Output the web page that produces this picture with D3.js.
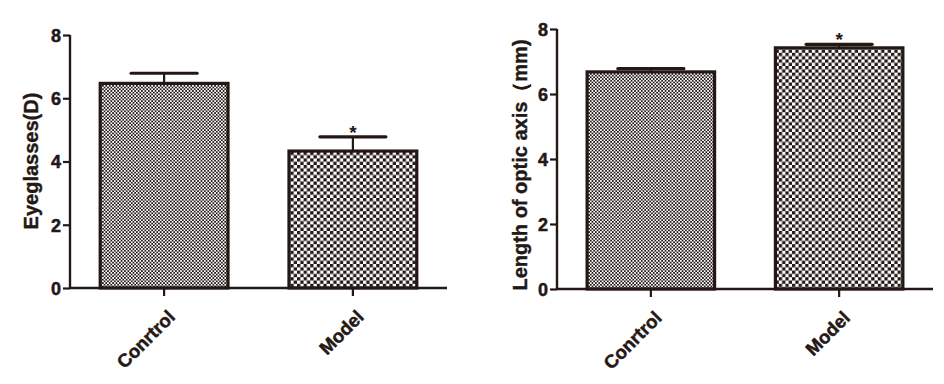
<!DOCTYPE html>
<html><head><meta charset="utf-8">
<script src="https://cdn.jsdelivr.net/npm/d3@7/dist/d3.min.js"></script>
<style>
body{margin:0;background:#fff;}
svg text{font-family:"Liberation Sans",Arial,sans-serif;font-weight:bold;fill:#231815;}
</style></head>
<body>
<svg id="c" width="944" height="384"></svg>
<script>
const categories = ["Conrtrol", "Model"];
const eyeglassesMean = [6.47, 4.33];
const eyeglassesSem = [0.32, 0.45];
const eyeglassesSig = ["", "*"];
const axisMean = [6.68, 7.42];
const axisSem = [0.10, 0.11];
const axisSig = ["", "*"];
const yTicks = [0, 2, 4, 6, 8];
const yLabels = ["Eyeglasses(D)", "Length of optic axis\uFF08mm)"];

const ink = "#231815";
const svg = d3.select("#c");
const defs = svg.append("defs");
function checker(id, p){
  const pat = defs.append("pattern").attr("id", id).attr("patternUnits","userSpaceOnUse")
    .attr("width", p).attr("height", p);
  pat.append("rect").attr("width", p).attr("height", p).attr("fill", "#fff");
  pat.append("rect").attr("width", p/2).attr("height", p/2).attr("fill", ink);
  pat.append("rect").attr("x", p/2).attr("y", p/2).attr("width", p/2).attr("height", p/2).attr("fill", ink);
}
checker("fine", 3.4);
checker("coarse", 6.6);
const fills = ["url(#fine)", "url(#coarse)"];

function heavy(sel, size){
  sel.attr("fill", ink).style("font-size", size + "px")
    .style("font-family", "'Liberation Sans',Arial,sans-serif").style("font-weight", "bold")
    .attr("stroke", ink).attr("stroke-width", 0.5);
}

function panel(cfg){
  const g = svg.append("g");
  const x = d3.scaleBand().domain(categories).range([cfg.x0, cfg.x1]).paddingInner(0.323).paddingOuter(0.16);
  const y = d3.scaleLinear().domain([0, 8]).range([cfg.y0, cfg.y1]);

  g.selectAll("rect.bar").data(categories).enter().append("rect")
    .attr("x", d => x(d)).attr("width", x.bandwidth())
    .attr("y", (d,i) => y(cfg.mean[i])).attr("height", (d,i) => y(0) - y(cfg.mean[i]))
    .attr("fill", (d,i) => fills[i]).attr("stroke", ink).attr("stroke-width", 3.2);

  const capW = 66;
  categories.forEach((d,i) => {
    const cx = x(d) + x.bandwidth()/2;
    g.append("line").attr("x1", cx).attr("x2", cx)
      .attr("y1", y(cfg.mean[i])).attr("y2", y(cfg.mean[i] + cfg.sem[i]))
      .attr("stroke", ink).attr("stroke-width", 2.2);
    g.append("line").attr("x1", cx - capW/2).attr("x2", cx + capW/2)
      .attr("y1", y(cfg.mean[i] + cfg.sem[i])).attr("y2", y(cfg.mean[i] + cfg.sem[i]))
      .attr("stroke", ink).attr("stroke-width", 3.2).attr("stroke-linecap", "round");
    if (cfg.sig[i]) {
      g.append("text").attr("x", cx).attr("y", y(cfg.mean[i] + cfg.sem[i]) + 2)
        .attr("text-anchor", "middle").style("font-size", "19px").text(cfg.sig[i]);
    }
  });

  const ya = g.append("g").attr("transform", `translate(${cfg.x0},0)`)
    .call(d3.axisLeft(y).tickValues(yTicks).tickFormat(d3.format("d")).tickSize(7).tickPadding(2));
  ya.select(".domain").attr("stroke", ink).attr("stroke-width", 2.4).attr("d", `M0,${cfg.y1}V${cfg.y0}`);
  ya.selectAll(".tick line").attr("stroke", ink).attr("stroke-width", 2.2);
  heavy(ya.selectAll(".tick text").attr("dy", "0.36em"), 18);

  const xa = g.append("g").attr("transform", `translate(0,${cfg.y0})`)
    .call(d3.axisBottom(x).tickSize(8).tickSizeOuter(0));
  xa.select(".domain").attr("stroke", ink).attr("stroke-width", 2.4).attr("d", `M${cfg.x0},0H${cfg.x1}`);
  xa.selectAll(".tick line").attr("stroke", ink).attr("stroke-width", 2.2);
  heavy(xa.selectAll(".tick text").attr("text-anchor", "end").attr("dy", 0).attr("y", 0)
    .attr("transform", "translate(12,30) rotate(-45)"), 18.5);

  g.append("text").attr("transform", `translate(${cfg.lx},${cfg.ly}) rotate(-90)`)
    .attr("text-anchor", "middle").attr("dy", "0.35em").style("font-size", "20px")
    .attr("stroke", ink).attr("stroke-width", 0.4).text(cfg.label);
}

panel({x0:70, x1:447, y0:288, y1:35, mean:eyeglassesMean, sem:eyeglassesSem, sig:eyeglassesSig, label:yLabels[0], lx:31, ly:161});
panel({x0:557, x1:933, y0:289, y1:29, mean:axisMean, sem:axisSem, sig:axisSig, label:yLabels[1], lx:520, ly:165});
</script>
</body></html>
